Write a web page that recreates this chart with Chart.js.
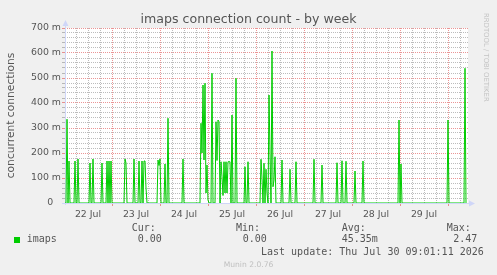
<!DOCTYPE html>
<html>
<head>
<meta charset="utf-8">
<script src="https://cdn.jsdelivr.net/npm/chart.js@4/dist/chart.umd.min.js"></script>
<style>
  html, body { margin: 0; padding: 0; background: #f0f0f0; }
  #wrap { position: relative; width: 497px; height: 275px; overflow: hidden; background: #f0f0f0; }
  #c { position: absolute; left: 0; top: 0; }
  .t { position: absolute; white-space: pre; color: #555; }
  .mono { font-family: "DejaVu Sans Mono", monospace; font-size: 10px; line-height: 12px; }
</style>
</head>
<body>
<div id="wrap">
  <canvas id="c" width="497" height="275"></canvas>
  <div class="t" style="left:0;width:497px;text-align:center;top:11px;font:12.6px/15px 'DejaVu Sans';color:#555;">imaps connection count - by week</div>
  <div class="t" style="left:482px;top:13px;font:6.9px/8px 'DejaVu Sans';color:#c4c4c4;writing-mode:vertical-rl;">RRDTOOL / TOBI OETIKER</div>
  <div class="t mono" style="left:131.7px;top:221.5px;">Cur:</div>
  <div class="t mono" style="left:236px;top:221.5px;">Min:</div>
  <div class="t mono" style="left:341.7px;top:221.5px;">Avg:</div>
  <div class="t mono" style="left:446.7px;top:221.5px;">Max:</div>
  <div style="position:absolute;left:14px;top:237px;width:6px;height:6px;background:#00cc00;"></div>
  <div class="t mono" style="left:26.7px;top:233.2px;">imaps</div>
  <div class="t mono" style="left:137.7px;top:233.2px;">0.00</div>
  <div class="t mono" style="left:242.7px;top:233.2px;">0.00</div>
  <div class="t mono" style="left:341.7px;top:233.2px;">45.35m</div>
  <div class="t mono" style="left:453.3px;top:233.2px;">2.47</div>
  <div class="t mono" style="left:261px;top:245.5px;">Last update: Thu Jul 30 09:01:11 2026</div>
  <div class="t" style="left:0;width:497px;text-align:center;top:259.9px;font:7.6px/9px 'DejaVu Sans';color:#c0c0c0;">Munin 2.0.76</div>
</div>
<script>
// ---- data (hours since 22 Jul 00:00, 30-min samples; connections) ----
const dayLabels = ['22 Jul', '23 Jul', '24 Jul', '25 Jul', '26 Jul', '27 Jul', '28 Jul', '29 Jul'];
const hours = [0.5, 1.5, 2.5, 5.5, 7.0, 13.0, 14.5, 19.0, 21.5, 22.5, 23.5,
  30.5, 31.0, 35.0, 37.5, 39.0, 40.0, 40.5, 41.0, 47.0, 47.5, 48.0, 50.5, 52.0, 59.5,
  68.5, 69.0, 69.5, 70.0, 70.5, 71.0, 71.5, 72.0, 74.0, 76.0, 76.5, 77.0, 77.5,
  78.5, 79.0, 79.5, 80.0, 80.5, 81.0, 81.5, 82.0, 82.5, 83.0, 84.0, 86.0, 90.5, 92.0,
  98.5, 99.0, 100.0, 101.0, 101.5, 102.5, 103.0, 104.0, 104.5, 105.0, 105.5,
  109.0, 113.0, 116.0, 125.0, 129.0, 136.5, 139.0, 141.0, 145.5, 149.5,
  167.5, 168.5, 192.0, 200.5, 201.0];
const values = [0, 0.335, 0.168, 0.168, 0.176, 0.160, 0.176, 0.160, 0.168, 0.168, 0.168,
  0.176, 0.160, 0.176, 0.168, 0.168, 0.168, 0.168, 0.060, 0.172, 0.150, 0.176, 0.156, 0.339, 0.176,
  0.319, 0.200, 0.472, 0.172, 0.479, 0.040, 0.152, 0.012, 0.519, 0.325, 0.170, 0.332, 0.325,
  0.165, 0.105, 0.030, 0.165, 0.040, 0.165, 0.040, 0.165, 0.165, 0.165, 0.352, 0.499, 0.145, 0.165,
  0.175, 0.099, 0.159, 0.135, 0.039, 0.432, 0.199, 0.608, 0.065, 0.092, 0.185,
  0.172, 0.135, 0.165, 0.175, 0.152, 0.161, 0.169, 0.167, 0.128, 0.168,
  0.332, 0.156, 0.332, 0.539, 0];

// build the point table: samples not listed are 0 (baseline) next to each spike
function buildPoints() {
  const m = new Map();
  hours.forEach((h, i) => m.set(h, values[i]));
  const extra = new Map();
  hours.forEach((h, i) => {
    if (values[i] === 0) return;
    [h - 0.5, h + 0.5].forEach(n => { if (!m.has(n) && n >= 0.5 && n <= 201) extra.set(n, 0); });
  });
  extra.forEach((v, k) => m.set(k, v));
  return [...m.entries()].sort((a, b) => a[0] - b[0]).map(([x, y]) => ({ x, y }));
}

const RED = 'rgba(222,79,79,0.6)';
const GRAY = 'rgba(143,143,143,0.6)';
const AXIS = '#CFD6F8';

const plotBg = {
  id: 'plotBg',
  beforeDraw(chart) {
    const { ctx, chartArea: a } = chart;
    ctx.save();
    ctx.fillStyle = '#ffffff';
    ctx.fillRect(a.left, a.top, a.right - a.left, a.bottom - a.top);
    ctx.restore();
  },
  beforeDatasetsDraw(chart) {
    const { ctx, chartArea: a } = chart;
    ctx.save();
    ctx.strokeStyle = AXIS;
    ctx.fillStyle = AXIS;
    ctx.lineWidth = 1;
    ctx.setLineDash([]);
    ctx.beginPath();
    ctx.moveTo(a.left + 0.5, a.bottom + 2);
    ctx.lineTo(a.left + 0.5, a.top - 3);
    ctx.moveTo(a.left - 3, a.bottom + 0.5);
    ctx.lineTo(a.right + 2, a.bottom + 0.5);
    ctx.stroke();
    ctx.beginPath();
    ctx.moveTo(a.left - 2.5, a.top - 2);
    ctx.lineTo(a.left + 3.5, a.top - 2);
    ctx.lineTo(a.left + 0.5, a.top - 8);
    ctx.closePath();
    ctx.fill();
    ctx.beginPath();
    ctx.moveTo(a.right + 1, a.bottom - 2.5);
    ctx.lineTo(a.right + 1, a.bottom + 3.5);
    ctx.lineTo(a.right + 7, a.bottom + 0.5);
    ctx.closePath();
    ctx.fill();
    ctx.restore();
  }
};

new Chart(document.getElementById('c'), {
  type: 'line',
  data: {
    datasets: [{
      label: 'imaps',
      data: buildPoints(),
      borderColor: '#00cc00',
      borderWidth: 1,
      pointRadius: 0,
      tension: 0,
      fill: false
    }]
  },
  options: {
    responsive: false,
    devicePixelRatio: 1,
    animation: false,
    events: [],
    layout: { padding: { top: 28, right: 29, bottom: 0, left: 0 } },
    plugins: { legend: { display: false }, tooltip: { enabled: false }, title: { display: false } },
    scales: {
      x: {
        type: 'linear',
        min: 0.5,
        max: 202,
        afterBuildTicks(s) {
          const t = [];
          for (let h = 6; h <= 198; h += 6) t.push({ value: h });
          s.ticks = t;
        },
        afterFit(s) { s.height = 72; },
        border: { display: false, dash: [1, 1] },
        grid: {
          color: c => (c.tick && c.tick.value % 24 === 0) ? RED : GRAY,
          lineWidth: 1,
          drawTicks: true,
          tickLength: 3,
          tickBorderDash: [],
          tickColor: c => (c.tick && c.tick.value % 24 === 0) ? RED : 'rgba(0,0,0,0)'
        },
        ticks: {
          autoSkip: false,
          maxRotation: 0,
          padding: 3,
          color: '#555',
          font: { family: 'DejaVu Sans', size: 9.4 },
          callback: v => (v % 24 === 12) ? dayLabels[(v - 12) / 24] : ''
        }
      },
      y: {
        min: 0,
        max: 0.7,
        afterBuildTicks(s) {
          const t = [];
          for (let i = 0; i <= 35; i++) t.push({ value: i * 20 / 1000 });
          s.ticks = t;
        },
        afterFit(s) { s.width = 65; },
        border: { display: false, dash: [1, 1] },
        grid: {
          color: c => (c.tick && Math.round(c.tick.value * 1000) % 100 === 0) ? RED : GRAY,
          lineWidth: 1,
          drawTicks: true,
          tickLength: 3,
          tickBorderDash: [],
          tickColor: c => (c.tick && Math.round(c.tick.value * 1000) % 100 === 0) ? RED : GRAY
        },
        ticks: {
          autoSkip: false,
          padding: 1,
          color: '#555',
          font: { family: 'DejaVu Sans', size: 9.4 },
          callback: v => {
            const m = Math.round(v * 1000);
            if (m === 0) return '0\u2002 ';
            return (m % 100 === 0) ? m + ' m' : '';
          }
        },
        title: {
          display: true,
          text: 'concurrent connections',
          color: '#555',
          font: { family: 'DejaVu Sans', size: 10.7 },
          padding: { top: 5, bottom: 0 }
        }
      }
    }
  },
  plugins: [plotBg]
});
</script>
</body>
</html>
